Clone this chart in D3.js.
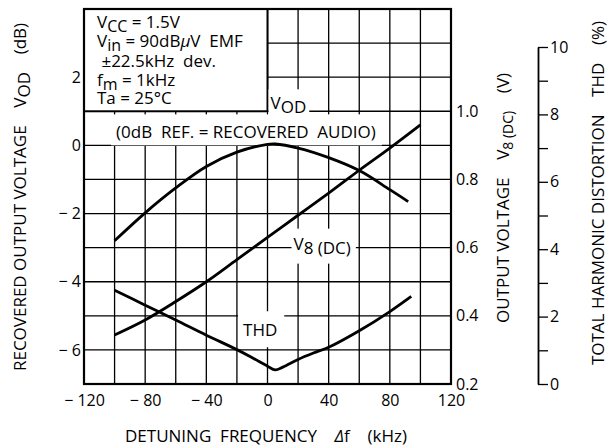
<!DOCTYPE html>
<html>
<head>
<meta charset="utf-8">
<script src="https://cdn.jsdelivr.net/npm/d3@7/dist/d3.min.js"></script>
<style>
  body { margin: 0; background: #fff; }
  svg { display: block; }
  text { font-family: "Open Sans", "Noto Sans", sans-serif; white-space: pre; }
</style>
</head>
<body>
<svg id="chart" width="610" height="448"></svg>
<script>
// curves, detuning frequency in kHz
const vodFreq = [-100, -80, -60, -40, -20, 0, 5, 20, 40, 60, 80, 92];
const vodDb   = [-2.8, -1.98, -1.25, -0.62, -0.2, 0.03, 0.04, -0.08, -0.36, -0.74, -1.3, -1.65];

const v8Freq = [-100, -80, -60, -40, -20, 0, 20, 40, 60, 80, 100];
const v8Volt = [0.344, 0.388, 0.442, 0.5, 0.565, 0.63, 0.695, 0.76, 0.827, 0.892, 0.96];

const thdFreq = [-100, -80, -60, -40, -20, -10, 0, 5, 10, 20, 30, 40, 60, 80, 94];
const thdPct  = [2.78, 2.34, 1.9, 1.45, 1.02, 0.78, 0.53, 0.42, 0.5, 0.73, 0.92, 1.09, 1.58, 2.15, 2.6];

// tick labels
const freqTicks = [-120, -80, -40, 0, 40, 80, 120];
const dbTicks   = [2, 0, -2, -4, -6];
const voltTicks = [0.2, 0.4, 0.6, 0.8, 1.0];
const thdTicks  = [0, 1, 2, 3, 4, 5, 6, 7, 8, 9, 10];

const FS = 16;   // tick labels
const LS = 17;   // titles and notes
const svg = d3.select("#chart");
svg.append("rect").attr("width", 610).attr("height", 448).attr("fill", "#fff");

const x    = d3.scaleLinear().domain([-120, 120]).range([84, 451]);
const yDb  = d3.scaleLinear().domain([-7, 4]).range([384, 9]);
const yV   = d3.scaleLinear().domain([0.2, 1.3]).range([384, 9]);
const yThd = d3.scaleLinear().domain([0, 10]).range([384, 47]);

const minus = d => d < 0 ? "\u2212 " + Math.abs(d) : "" + d;

// grid
const grid = svg.append("g").attr("stroke", "#000").attr("stroke-width", 1.3);
grid.selectAll(".vx").data(d3.range(-100, 101, 20)).enter().append("line")
  .attr("x1", d => x(d)).attr("x2", d => x(d))
  .attr("y1", yDb(4)).attr("y2", yDb(-7));
grid.selectAll(".hy").data(d3.range(-6, 4, 1)).enter().append("line")
  .attr("x1", x(-120)).attr("x2", x(120))
  .attr("y1", d => yDb(d)).attr("y2", d => yDb(d));

// conditions box, top left corner
const box = svg.append("g");
box.append("rect")
  .attr("x", x(-120)).attr("y", yDb(4))
  .attr("width", x(0) - x(-120)).attr("height", yDb(1) - yDb(4))
  .attr("fill", "#fff").attr("stroke", "#000").attr("stroke-width", 2);

// text with optional subscript parts: [string, isSub, italic]
function richText(g, parts, tx, ty, size, anchor, subSize) {
  const t = g.append("text").attr("x", tx).attr("y", ty)
    .attr("font-size", size).attr("text-anchor", anchor || "start");
  let shifted = false;
  parts.forEach(p => {
    const s = t.append("tspan").text(p[0]);
    if (p[1] && !shifted) { s.attr("dy", 4); shifted = true; }
    else if (!p[1] && shifted) { s.attr("dy", -4); shifted = false; }
    if (p[1] === "small") s.attr("font-size", size - 3);
    else if (p[1] && subSize) s.attr("font-size", subSize);
    if (p[2]) s.attr("font-style", "italic");
  });
  return t;
}

const condLines = [
  [["V"], ["CC", true], [" = 1.5V"]],
  [["V"], ["in", true], [" = 90dB"], ["\u03bc", false, true], ["V  EMF"]],
  [[" \u00b122.5kHz  dev."]],
  [["f"], ["m", true], [" = 1kHz"]],
  [["Ta = 25\u00b0C"]]
];
const condBase = [28, 47, 67, 86, 104];
condLines.forEach((ln, i) => richText(box, ln, 97, condBase[i], LS, "start", 16));

// labels sitting on the grid with a white patch behind them
function tag(parts, tx, ty, pad) {
  const g = svg.append("g");
  const r = g.append("rect").attr("fill", "#fff");
  const t = richText(g, parts, tx, ty, LS);
  const b = t.node().getBBox();
  r.attr("x", b.x - pad[0]).attr("y", b.y - pad[1])
   .attr("width", b.width + pad[0] + pad[2]).attr("height", b.height + pad[1] + pad[3]);
}
tag([["(0dB  REF. = RECOVERED  AUDIO)"]], x(-99), yDb(0) - 7, [5, 6, 6, 2]);
tag([["V"], ["OD", true]], x(2), yDb(1) - 2, [2, 2, 3, -3]);
tag([["V"], ["8 (DC)", true]], x(17), yDb(-3) + 2, [2, 3, 5, 5]);
tag([["THD"]], x(-16), yDb(-5.6), [5, 7, 7, 6]);

// curves
const line = d3.line().curve(d3.curveCatmullRom.alpha(0.5));
const curves = svg.append("g").attr("fill", "none").attr("stroke", "#000")
  .attr("stroke-width", 2.8).attr("stroke-linejoin", "round");
curves.append("path").attr("d", line(vodFreq.map((f, i) => [x(f), yDb(vodDb[i])])));
curves.append("path").attr("d", line(v8Freq.map((f, i) => [x(f), yV(v8Volt[i])])));
curves.append("path").attr("d", line(thdFreq.map((f, i) => [x(f), yThd(thdPct[i])])));

// frame
svg.append("rect").attr("x", x(-120)).attr("y", yDb(4))
  .attr("width", x(120) - x(-120)).attr("height", yDb(-7) - yDb(4))
  .attr("fill", "none").attr("stroke", "#000").attr("stroke-width", 2.2);

// axes
function styleAxis(g) {
  g.attr("font-family", null).attr("font-size", FS);
  g.select(".domain").remove();
  g.selectAll("text").attr("fill", "#000");
}
svg.append("g").attr("transform", `translate(${x(-120)},0)`)
  .call(d3.axisLeft(yDb).tickValues(dbTicks).tickSize(0).tickPadding(3).tickFormat(minus))
  .call(styleAxis);
svg.append("g").attr("transform", `translate(0,${yDb(-7)})`)
  .call(d3.axisBottom(x).tickValues(freqTicks).tickSize(0).tickPadding(11).tickFormat(minus))
  .call(styleAxis);
svg.append("g").attr("transform", `translate(${x(120)},0)`)
  .call(d3.axisRight(yV).tickValues(voltTicks).tickSize(0).tickPadding(5).tickFormat(d3.format(".1f")))
  .call(styleAxis);

const thdAxis = svg.append("g").attr("transform", "translate(538,0)")
  .call(d3.axisRight(yThd).tickValues(thdTicks).tickSize(10).tickSizeOuter(0).tickPadding(2)
    .tickFormat(d => d % 2 === 0 ? d : ""));
thdAxis.attr("font-family", null).attr("font-size", FS);
thdAxis.selectAll("line").attr("stroke", "#000").attr("stroke-width", 1.3);
thdAxis.select(".domain").attr("stroke", "#000").attr("stroke-width", 1.8);
thdAxis.selectAll("text").attr("fill", "#000");

// axis titles
richText(svg, [["DETUNING  FREQUENCY    "], ["\u0394", false, true], ["f    (kHz)"]], 266, 442, LS, "middle");

const lt = svg.append("g").attr("transform", "translate(26,197) rotate(-90)");
richText(lt, [["RECOVERED OUTPUT VOLTAGE    V"], ["OD", true], ["    (dB)"]], 0, 0, LS, "middle");

const rt1 = svg.append("g").attr("transform", "translate(509,198) rotate(-90)");
richText(rt1, [["OUTPUT VOLTAGE    V"], ["8 (DC)", "small"], ["    (V)"]], 0, 0, LS, "middle");

const rt2 = svg.append("g").attr("transform", "translate(604,193) rotate(-90)");
richText(rt2, [["TOTAL HARMONIC DISTORTION    THD    (%)"]], 0, 0, LS, "middle");
</script>
</body>
</html>
